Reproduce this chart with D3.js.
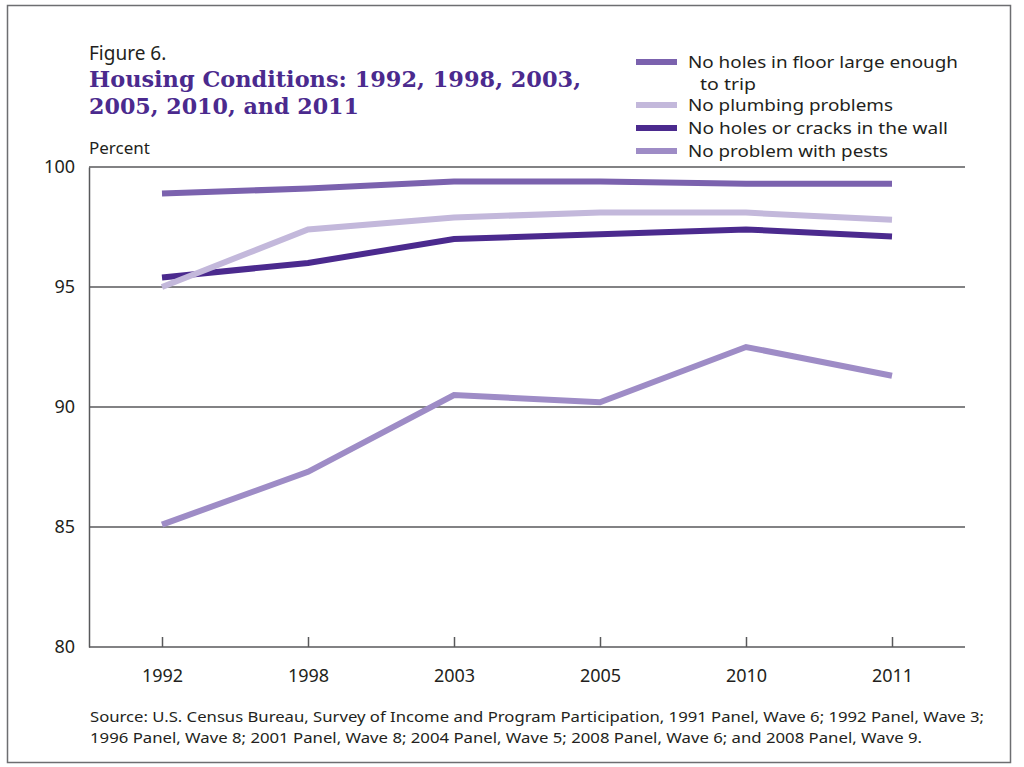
<!DOCTYPE html>
<html>
<head>
<meta charset="utf-8">
<script src="https://cdn.jsdelivr.net/npm/d3@7"></script>
<style>
  body { margin: 0; background: #fff; }
  text { font-family: "Noto Sans", "Open Sans", sans-serif; fill: #231f20; }
</style>
</head>
<body>
<svg width="1024" height="767"></svg>
<script>
var years = ['1992', '1998', '2003', '2005', '2010', '2011'];
var floorVals = [98.9, 99.1, 99.4, 99.4, 99.3, 99.3];
var plumbingVals = [95.0, 97.4, 97.9, 98.1, 98.1, 97.8];
var wallVals = [95.4, 96.0, 97.0, 97.2, 97.4, 97.1];
var pestVals = [85.1, 87.3, 90.5, 90.2, 92.5, 91.3];
var yTicks = [80, 85, 90, 95, 100];

var series = [
  { name: ['No holes in floor large enough', 'to trip'], width: [270, 56], values: floorVals, color: '#7b62ae' },
  { name: ['No plumbing problems'], width: [205], values: plumbingVals, color: '#c3b8db' },
  { name: ['No holes or cracks in the wall'], width: [260], values: wallVals, color: '#4b2a8e' },
  { name: ['No problem with pests'], width: [200], values: pestVals, color: '#9e8cc6' }
];

var svg = d3.select('svg');
var plotLeft = 89, plotRight = 965, plotTop = 167, plotBottom = 647;

// frame
svg.append('rect')
  .attr('x', 7.5).attr('y', 5.5)
  .attr('width', 1003).attr('height', 757)
  .attr('fill', 'none')
  .attr('stroke', '#6d6e71')
  .attr('stroke-width', 1.5);

var x = d3.scalePoint().domain(years).range([plotLeft, plotRight]).padding(0.5);
var y = d3.scaleLinear().domain([80, 100]).range([plotBottom, plotTop]);

// grid lines
svg.selectAll('.grid')
  .data(yTicks.filter(function (d) { return d > 80; }))
  .enter().append('line')
  .attr('x1', plotLeft).attr('x2', plotRight)
  .attr('y1', function (d) { return y(d); })
  .attr('y2', function (d) { return y(d); })
  .attr('stroke', '#58595b')
  .attr('stroke-width', 1.5);

// y axis
var yAxis = svg.append('g')
  .attr('transform', 'translate(' + plotLeft + ',0)')
  .call(d3.axisLeft(y).tickValues(yTicks).tickSize(0).tickPadding(14));
yAxis.select('.domain').attr('stroke', '#58595b').attr('stroke-width', 1.5);
yAxis.selectAll('text').style('font-size', '18px').attr('fill', '#231f20');

// x axis
var xAxis = svg.append('g')
  .attr('transform', 'translate(0,' + plotBottom + ')')
  .call(d3.axisBottom(x).tickSizeInner(-10).tickSizeOuter(0).tickPadding(22));
xAxis.select('.domain').attr('d', 'M' + plotLeft + ',0H' + plotRight)
  .attr('stroke', '#58595b').attr('stroke-width', 1.5);
xAxis.selectAll('.tick line').attr('stroke', '#58595b').attr('stroke-width', 1.5);
xAxis.selectAll('text').style('font-size', '18px').attr('fill', '#231f20');

// lines
var line = d3.line()
  .x(function (d, i) { return x(years[i]); })
  .y(function (d) { return y(d); });

svg.selectAll('.series')
  .data(series.slice().reverse())
  .enter().append('path')
  .attr('d', function (d) { return line(d.values); })
  .attr('fill', 'none')
  .attr('stroke', function (d) { return d.color; })
  .attr('stroke-width', 6)
  .attr('stroke-linejoin', 'miter');

// titles
svg.append('text').attr('x', 89).attr('y', 60)
  .style('font-size', '19px').text('Figure 6.');
var title = svg.append('text')
  .style('font-family', '"DejaVu Serif", serif')
  .style('font-weight', 'bold')
  .style('font-size', '22px')
  .style('fill', '#4b2a8e');
title.append('tspan').attr('x', 89).attr('y', 87)
  .attr('textLength', 492).attr('lengthAdjust', 'spacingAndGlyphs')
  .text('Housing Conditions: 1992, 1998, 2003,');
title.append('tspan').attr('x', 89).attr('y', 114)
  .attr('textLength', 270).attr('lengthAdjust', 'spacingAndGlyphs')
  .text('2005, 2010, and 2011');
svg.append('text').attr('x', 89).attr('y', 154)
  .style('font-size', '17px').text('Percent');

// legend
var legendY = [62, 105, 128, 151];
var leg = svg.selectAll('.legend')
  .data(series)
  .enter().append('g')
  .attr('transform', function (d, i) { return 'translate(636,' + legendY[i] + ')'; });
leg.append('line')
  .attr('x1', 0).attr('x2', 41)
  .attr('stroke', function (d) { return d.color; })
  .attr('stroke-width', 6);
leg.each(function (d) {
  var g = d3.select(this);
  d.name.forEach(function (n, j) {
    g.append('text')
      .attr('x', j === 0 ? 52 : 64)
      .attr('y', 6 + j * 21.5)
      .style('font-size', '16.5px')
      .attr('textLength', d.width[j])
      .attr('lengthAdjust', 'spacingAndGlyphs')
      .text(n);
  });
});

// source
var sourceLines = [
  'Source: U.S. Census Bureau, Survey of Income and Program Participation, 1991 Panel, Wave 6; 1992 Panel, Wave 3;',
  '1996 Panel, Wave 8; 2001 Panel, Wave 8; 2004 Panel, Wave 5; 2008 Panel, Wave 6; and 2008 Panel, Wave 9.'
];
var sourceWidths = [894, 832];
sourceLines.forEach(function (s, i) {
  svg.append('text')
    .attr('x', 90).attr('y', 722 + i * 21)
    .attr('textLength', sourceWidths[i])
    .attr('lengthAdjust', 'spacingAndGlyphs')
    .style('font-size', '15px')
    .text(s);
});
</script>
</body>
</html>
